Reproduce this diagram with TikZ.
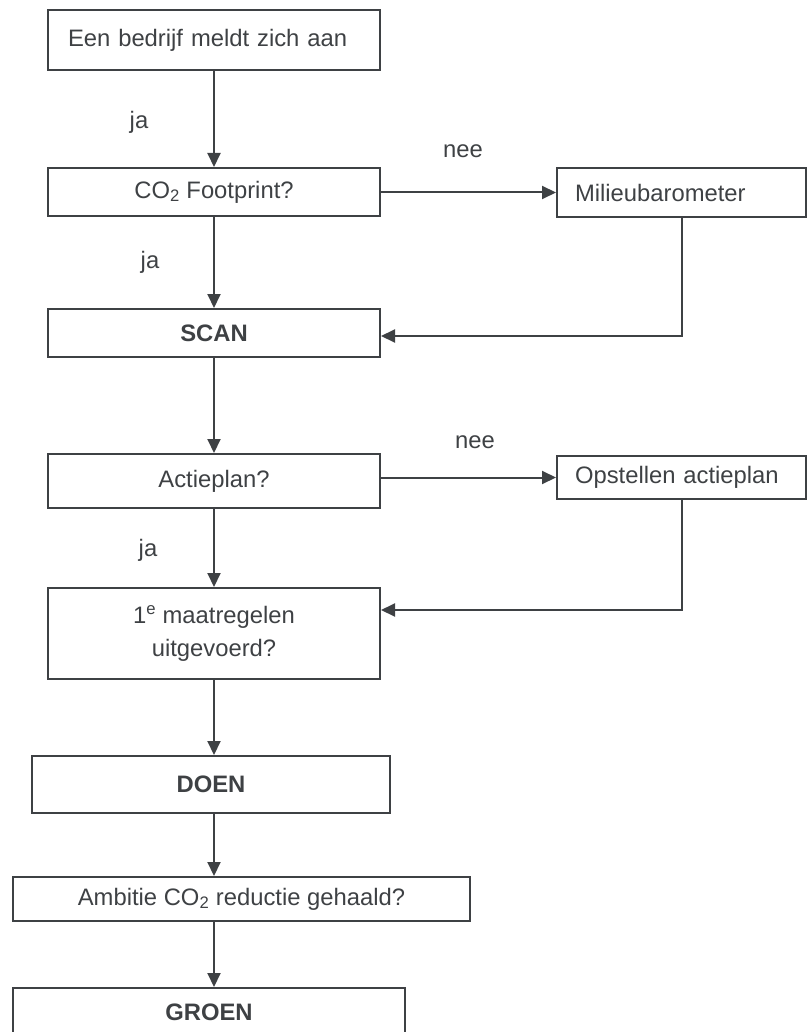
\documentclass[tikz,border=0pt]{standalone}
\usepackage{fontspec}
\setmainfont{Liberation Sans}
\usepackage{tikz}
\usetikzlibrary{arrows.meta}
\definecolor{ink}{HTML}{3E4144}
\tikzset{
	box/.style={draw=ink, line width=2pt, text=ink, inner sep=0pt, minimum width=332pt},
	sidebox/.style={draw=ink, line width=2pt, text=ink, inner xsep=18pt, inner ysep=0pt, text width=213pt, align=left},
	link/.style={draw=ink, line width=2pt, -{Triangle[length=14pt,width=13pt]}},
	tag/.style={text=ink, inner sep=0pt}
}
\newcommand{\cotwo}{CO\textsubscript{2}}

\begin{document}
\begin{tikzpicture}[x=1pt, y=-1pt, font=\fontsize{23.8}{28}\selectfont]
				
				\useasboundingbox (0,0) rectangle (807,1032);
				\clip (0,0) rectangle (807,1032);
				
				\node[box, minimum height=60pt, text width=292pt, inner xsep=20pt, minimum width=0pt, align=left] (start) at (214, 40) {Een bedrijf meldt zich aan};
				\node[box, minimum height=48pt] (fp) at (214, 192) {\cotwo{} Footprint?};
				\node[box, minimum height=48pt] (scan) at (214, 333) {\textbf{SCAN}};
				\node[box, minimum height=54pt] (plan) at (214, 481) {Actieplan?};
				\node[box, minimum height=91pt, align=center, font=\fontsize{23.8}{33}\selectfont] (maatr) at (214, 633.5) {1\textsuperscript{e} maatregelen\\uitgevoerd?};
				\node[box, minimum width=358pt, minimum height=57pt] (doen) at (211, 784.5) {\textbf{DOEN}};
				\node[box, minimum width=457pt, minimum height=44pt] (amb) at (241.5, 899) {Ambitie \cotwo{} reductie gehaald?};
				\node[box, minimum width=392pt, minimum height=48pt] (groen) at (209, 1012) {\textbf{GROEN}};
				
				\node[sidebox, minimum height=49pt] (milieu) at (681.5, 192.5) {Milieubarometer};
				\node[sidebox, minimum height=43pt] (opst) at (681.5, 477.5) {Opstellen actieplan};
				
				\draw[link] (start) -- (fp);
				\draw[link] (fp) -- (scan);
				\draw[link] (fp.east |- milieu.west) -- (milieu.west);
				\draw[link] (milieu.south) |- ([yshift=-3pt]scan.east);
				\draw[link] (scan) -- (plan);
				\draw[link] (plan.east |- opst.west) -- (opst.west);
				\draw[link] (opst.south) |- ([yshift=23.5pt]maatr.east);
				\draw[link] (plan) -- (maatr);
				\draw[link] (maatr.south) -- (maatr.south |- doen.north);
				\draw[link] (doen.south -| maatr.south) -- (amb.north -| maatr.south);
				\draw[link] (amb.south -| maatr.south) -- (groen.north -| maatr.south);
				
				\node[tag] (ja1) at (139, 122) {ja};
				\node[tag] (ja2) at (150, 262) {ja};
				\node[tag] (ja3) at (148, 550) {ja};
				\node[tag] (nee1) at (463, 151) {nee};
				\node[tag] (nee2) at (475, 442) {nee};
				
\end{tikzpicture}
\end{document}
